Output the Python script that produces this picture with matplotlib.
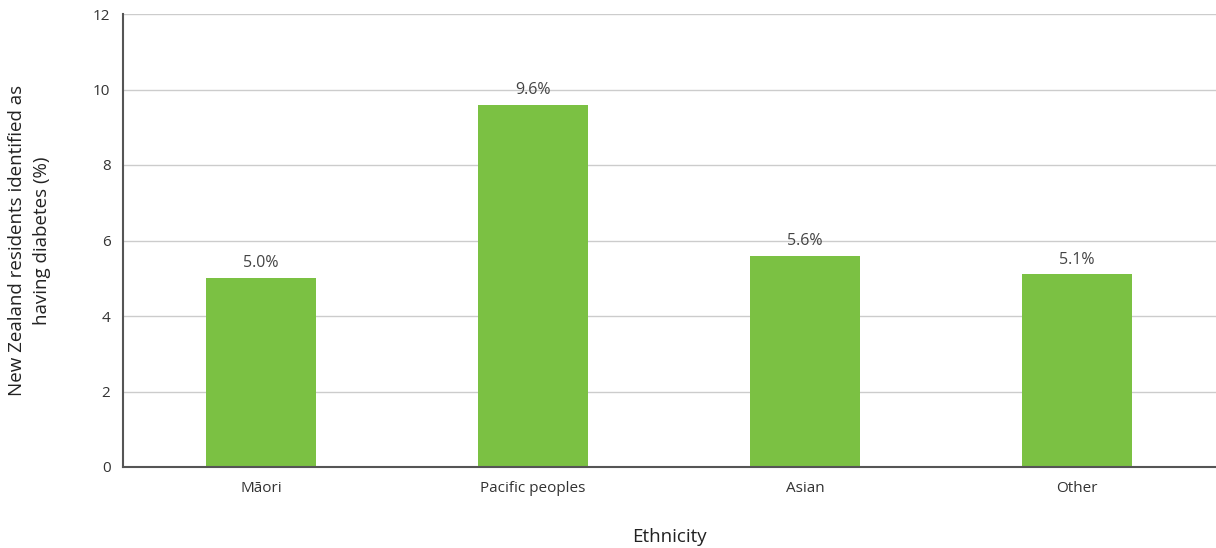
import matplotlib.pyplot as plt

# data
categories = ["Māori", "Pacific peoples", "Asian", "Other"]
values = [5.0, 9.6, 5.6, 5.1]
labels = ["5.0%", "9.6%", "5.6%", "5.1%"]
yticks = [0, 2, 4, 6, 8, 10, 12]

plt.rcParams['font.family'] = ['Open Sans', 'DejaVu Sans']

fig = plt.figure(figsize=(12.16, 5.48), dpi=100)
ax = fig.add_axes([123 / 1216, 81 / 548, 1 - 123 / 1216, (467 - 14) / 548])

x = range(len(categories))
bars = ax.bar(x, values, width=0.405, color="#7bc143", zorder=3)

for b, lab in zip(bars, labels):
    ax.annotate(lab, (b.get_x() + b.get_width() / 2, b.get_height()),
                xytext=(0, 5), textcoords="offset points",
                ha="center", va="bottom", fontsize=11.5, color="#444444")

ax.set_xlim(-0.507, 3.51)
ax.set_ylim(0, 12)
ax.set_yticks(yticks)
ax.set_xticks(list(x))
ax.set_xticklabels(categories)
ax.yaxis.grid(True, color="#cccccc", linewidth=1, zorder=0)
ax.set_axisbelow(True)

for s in ["top", "right"]:
    ax.spines[s].set_visible(False)
for s in ["left", "bottom"]:
    ax.spines[s].set_color("#555555")
    ax.spines[s].set_linewidth(1.5)
    ax.spines[s].set_zorder(4)

ax.tick_params(length=0, labelsize=11, labelcolor="#333333")
ax.tick_params(axis="y", pad=9)
ax.tick_params(axis="x", pad=10)

ax.set_xlabel("Ethnicity", fontsize=13.5, color="#222222")
ax.xaxis.set_label_coords(0.5, -0.135)
ax.set_ylabel("New Zealand residents identified as\nhaving diabetes (%)",
              fontsize=13.5, color="#222222", linespacing=1.5)
ax.yaxis.set_label_coords(-0.066, 0.5)

plt.savefig("out.png", dpi=100)
